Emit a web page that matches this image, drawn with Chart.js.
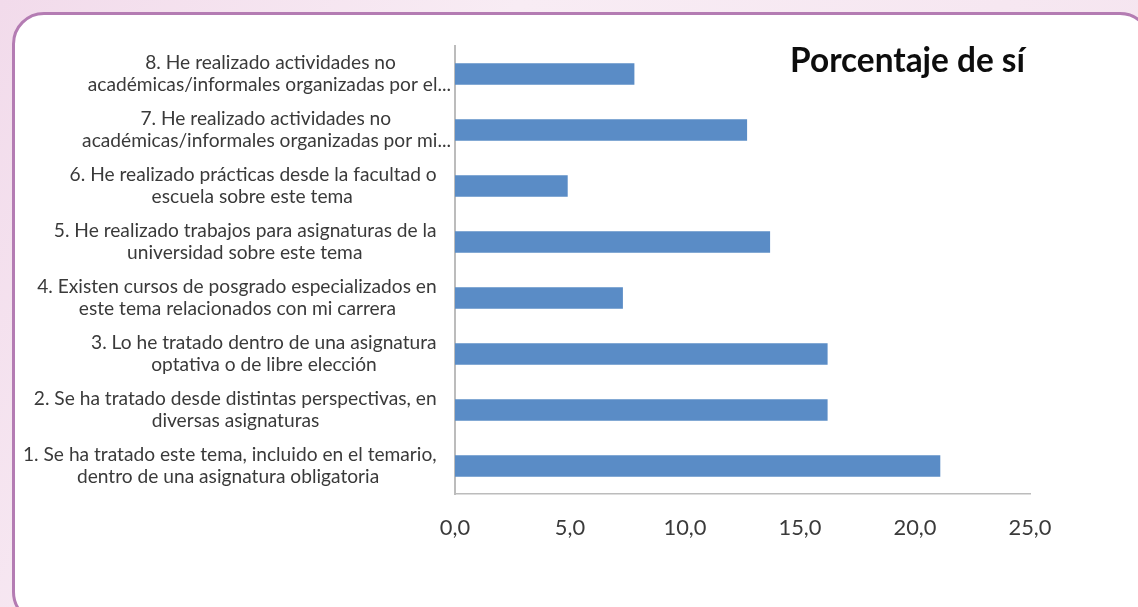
<!DOCTYPE html>
<html>
<head>
<meta charset="utf-8">
<title>Porcentaje de sí</title>
<script src="https://cdn.jsdelivr.net/npm/chart.js@4.4.1/dist/chart.umd.min.js"></script>
<style>
  html, body { margin: 0; padding: 0; }
  body {
    width: 1138px; height: 607px; overflow: hidden; position: relative;
    background: linear-gradient(120deg, #f2dbeb 0%, #f8ecf4 35%, #f4e2ee 100%);
  }
  #panel {
    position: absolute; left: 12px; top: 12px; width: 1140px; height: 612px;
    box-sizing: border-box; border: 3px solid #b47cb3; border-radius: 32px; background: #fff;
  }
  #chart { position: absolute; left: 0; top: 0; }
</style>
</head>
<body>
<div id="panel"></div>
<canvas id="chart" width="1138" height="607"></canvas>
<script>
// Preguntas (de abajo hacia arriba en el grafico)
const categories = [
    ['1. Se ha tratado este tema, incluido en el temario,', 'dentro de una asignatura obligatoria'],
    ['2. Se ha tratado desde distintas perspectivas, en', 'diversas asignaturas'],
    ['3. Lo he tratado dentro de una asignatura', 'optativa o de libre elección'],
    ['4. Existen cursos de posgrado especializados en', 'este tema relacionados con mi carrera'],
    ['5. He realizado trabajos para asignaturas de la', 'universidad sobre este tema'],
    ['6. He realizado prácticas desde la facultad o', 'escuela sobre este tema'],
    ['7. He realizado actividades no', 'académicas/informales organizadas por mi...'],
    ['8. He realizado actividades no', 'académicas/informales organizadas por el...']
];
const siValues = [21.1, 16.2, 16.2, 7.3, 13.7, 4.9, 12.7, 7.8];
const xTickLabels = ['0,0', '5,0', '10,0', '15,0', '20,0', '25,0'];
const chartTitle = 'Porcentaje de sí';

// Font sizes fitted to the widths seen in the reference
const measureCtx = document.createElement('canvas').getContext('2d');
function fitSize(text, weight, family, target) {
    measureCtx.font = weight + ' 100px ' + family;
    return 100 * target / measureCtx.measureText(text).width;
}
const labelSize = fitSize(categories[0][0], 'normal', 'Lato', 414);
const tickSize = fitSize('10,0', 'normal', 'Lato', 43);
const titleSize = fitSize(chartTitle, 'bold', 'Lato', 235);

// Centre the lines of each label inside its own block; truncated labels
// (ending in "...") run a bit further right, like in the original
function centerLines(lines) {
    measureCtx.font = 'normal ' + labelSize + 'px Lato';
    const widths = lines.map(l => measureCtx.measureText(l).width);
    const maxW = Math.max(...widths);
    const sp = measureCtx.measureText('\u2009').width || 3;
    const cut = lines.some(l => l.endsWith('...'));
    const extra = cut ? 0 : 15;
    return lines.map((l, i) => l + '\u2009'.repeat(Math.round(((maxW - widths[i]) / 2 + extra) / sp)));
}

const titlePlugin = {
    id: 'cornerTitle',
    afterDraw(chart) {
        const { ctx, chartArea } = chart;
        ctx.save();
        ctx.font = 'bold ' + titleSize + 'px Lato';
        ctx.fillStyle = '#0d0d0d';
        ctx.textAlign = 'right';
        ctx.textBaseline = 'alphabetic';
        ctx.fillText(chartTitle, chartArea.right - 5, chartArea.top + 26);
        ctx.restore();
    }
};

const ctx = document.getElementById('chart').getContext('2d');
new Chart(ctx, {
    type: 'bar',
    data: {
        labels: categories,
        datasets: [{
            data: siValues,
            backgroundColor: '#5a8cc6',
            borderWidth: 0,
            categoryPercentage: 1,
            barPercentage: 0.385
        }]
    },
    options: {
        indexAxis: 'y',
        responsive: false,
        animation: false,
        layout: { padding: { left: 0, top: 46, right: 108, bottom: 0 } },
        plugins: {
            legend: { display: false },
            tooltip: { enabled: false }
        },
        scales: {
            y: {
                reverse: true,
                grid: { display: false, drawTicks: false },
                border: { display: true, color: '#bcbcbc', width: 2 },
                ticks: {
                    color: '#3a3a3a',
                    padding: 4,
                    crossAlign: 'near',
                    font: { family: 'Lato', size: labelSize, lineHeight: 22 / labelSize },
                    callback: (value, index) => centerLines(categories[index])
                },
                afterFit: scale => { scale.width = 455; }
            },
            x: {
                min: 0,
                max: 25,
                grid: { display: false, drawTicks: false },
                border: { display: true, color: '#bcbcbc', width: 1.5 },
                ticks: {
                    stepSize: 5,
                    color: '#3a3a3a',
                    padding: 21,
                    maxRotation: 0,
                    font: { family: 'Lato', size: tickSize },
                    callback: (value, index) => xTickLabels[index]
                },
                afterFit: scale => { scale.height = 113; }
            }
        }
    },
    plugins: [titlePlugin]
});
</script>
</body>
</html>
